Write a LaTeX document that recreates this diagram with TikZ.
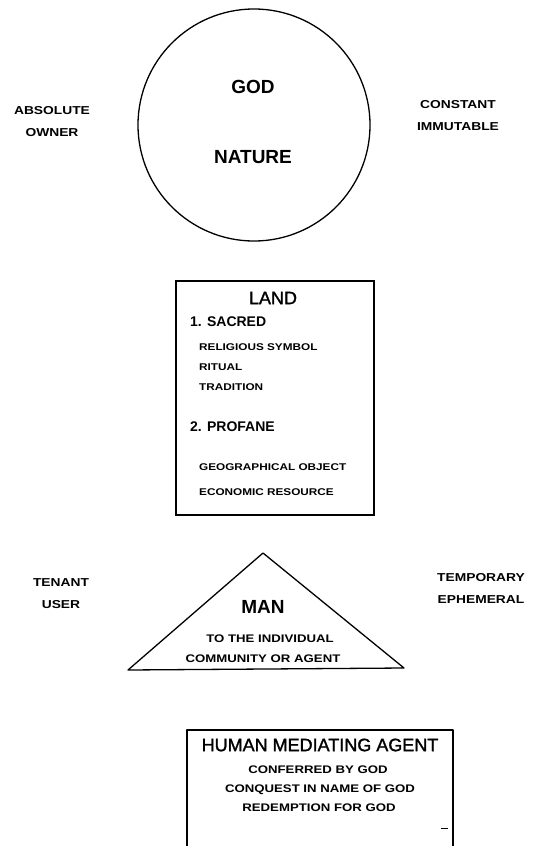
\documentclass[tikz,border=0pt]{standalone}
\usepackage{fontspec}
\setmainfont{Liberation Sans}
\newfontfamily\widefont[FakeStretch=1.2]{Liberation Sans}
\newfontfamily\medfont[FakeBold=1.5]{Liberation Sans}
\begin{document}
\begin{tikzpicture}[x=1pt,y=-1pt,
  side/.style={font=\widefont\bfseries\fontsize{11.5}{22}\selectfont, align=center, inner sep=0pt},
  big/.style={font=\bfseries\fontsize{19}{22}\selectfont, inner sep=0pt},
  mid/.style={font=\medfont\fontsize{18}{20}\selectfont, inner sep=0pt},
  head/.style={font=\bfseries\fontsize{14}{16}\selectfont, anchor=west, inner sep=0pt},
  item/.style={font=\widefont\bfseries\fontsize{9.8}{11}\selectfont, anchor=west, inner sep=0pt},
  sub/.style={font=\widefont\bfseries\fontsize{11}{13}\selectfont, inner sep=0pt},
  outline/.style={draw, line width=1.3pt},
]
\useasboundingbox (0,0) rectangle (539,846);

% circle: GOD / NATURE
\node[outline, circle, minimum size=232pt, inner sep=0pt] (globe) at (254,125) {};
\node[big] (god) at (253,87) {GOD};
\node[big] (nature) at (253,157) {NATURE};
\node[side] (owner) at (52,121.5) {ABSOLUTE\\OWNER};
\node[side] (constant) at (458,115.5) {CONSTANT\\IMMUTABLE};

% LAND box
\node[outline, rectangle, minimum width=198pt, minimum height=234pt, inner sep=0pt] (landbox) at (275,398) {};
\node[mid] (land) at (273,298) {LAND};
\node[head] (sacred) at (190,322) {1. SACRED};
\node[item] (relig) at (199,347) {RELIGIOUS SYMBOL};
\node[item] (ritual) at (199,367) {RITUAL};
\node[item] (trad) at (199,387) {TRADITION};
\node[head] (profane) at (190,427) {2. PROFANE};
\node[item] (geo) at (199,467) {GEOGRAPHICAL OBJECT};
\node[item] (eco) at (199,492) {ECONOMIC RESOURCE};

% MAN triangle
\coordinate (apex) at (263,553);
\coordinate (bl) at (128,670);
\coordinate (br) at (404,668);
\draw[outline, line join=round] (apex) -- (bl) -- (br) -- cycle;
\node[big] (man) at (263,607) {MAN};
\node[sub] (indiv) at (270,639) {TO THE INDIVIDUAL};
\node[sub] (commun) at (263,659) {COMMUNITY OR AGENT};
\node[side] (tenant) at (61,594) {TENANT\\USER};
\node[side] (temp) at (481,588.5) {TEMPORARY\\EPHEMERAL};

% HUMAN MEDIATING AGENT box
\coordinate (hl) at (187,850);
\coordinate (htl) at (187,730);
\coordinate (htr) at (453,730);
\coordinate (hr) at (453,850);
\draw[outline, line join=round] (hl) -- (htl) -- (htr) -- (hr);
\node[mid] (human) at (320,745) {HUMAN MEDIATING AGENT};
\node[sub] (conf) at (318,770) {CONFERRED BY GOD};
\node[sub] (conq) at (320,790) {CONQUEST IN NAME OF GOD};
\node[sub] (redem) at (319,808) {REDEMPTION FOR GOD};
\coordinate (d1) at (441,828);
\coordinate (d2) at (448,828);
\draw[line width=0.9pt] (d1) -- (d2);
\end{tikzpicture}
\end{document}
